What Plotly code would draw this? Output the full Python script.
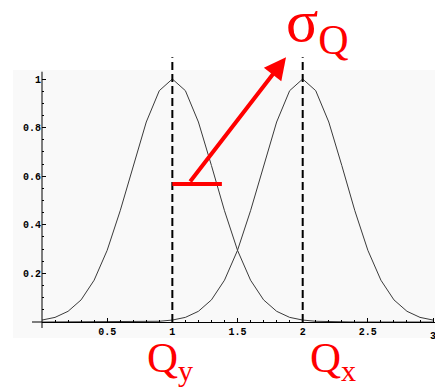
import plotly.graph_objects as go

x_vals = [0.0, 0.1, 0.2, 0.3, 0.4, 0.5, 0.6, 0.7, 0.8, 0.9,
          1.0, 1.1, 1.2, 1.3, 1.4, 1.5, 1.6, 1.7, 1.8, 1.9,
          2.0, 2.1, 2.2, 2.3, 2.4, 2.5, 2.6, 2.7, 2.8, 2.9, 3.0]
peak_y = [0.008, 0.019, 0.044, 0.091, 0.172, 0.295, 0.458, 0.644, 0.823, 0.952,
          1.0, 0.952, 0.823, 0.644, 0.458, 0.295, 0.172, 0.091, 0.044, 0.019,
          0.008, 0.003, 0.001, 0.0, 0.0, 0.0, 0.0, 0.0, 0.0, 0.0, 0.0]
peak_x = [0.0, 0.0, 0.0, 0.0, 0.0, 0.0, 0.0, 0.0, 0.001, 0.003,
          0.008, 0.019, 0.044, 0.091, 0.172, 0.295, 0.458, 0.644, 0.823, 0.952,
          1.0, 0.952, 0.823, 0.644, 0.458, 0.295, 0.172, 0.091, 0.044, 0.019, 0.008]

centers = [1, 2]
center_labels = ["Q<sub>y</sub>", "Q<sub>x</sub>"]
dash_top = 1.09

x_ticks = [0.5, 1, 1.5, 2, 2.5, 3]
x_ticktext = ["0.5", "1", "1.5", "2", "2.5", "3"]
y_ticks = [0.2, 0.4, 0.6, 0.8, 1.0]
y_ticktext = ["0.2", "0.4", "0.6", "0.8", "1"]
y_minor = [i * 0.05 for i in range(1, 21)]

# sigma marker: bar level and arrow ends (data units)
sigma_bar = (1.0, 1.38, 0.568)
arrow_tail = (1.128, 0.572)
arrow_tip = (1.872, 1.09)

RED = "#ff0000"
SERIF = "Liberation Serif, Times New Roman, serif"
tick_font = dict(family="Liberation Mono, Courier New, monospace", size=10,
                 color="black", weight="bold")

W, H = 435, 389
ML, MB = 42, 67
plot_w = W - ML
plot_h = H - MB
y_top = plot_h / 243

fig = go.Figure()

for ys in (peak_y, peak_x):
    fig.add_trace(go.Scatter(x=x_vals, y=ys, mode="lines",
                             line=dict(color="#3a3a3a", width=1),
                             hoverinfo="skip"))

for c in centers:
    fig.add_trace(go.Scatter(x=[c, c], y=[0, dash_top], mode="lines",
                             line=dict(color="black", width=2, dash="8px,4px"),
                             hoverinfo="skip"))

# red sigma bar
fig.add_trace(go.Scatter(x=[sigma_bar[0], sigma_bar[1]], y=[sigma_bar[2], sigma_bar[2]],
                         mode="lines", line=dict(color=RED, width=4),
                         hoverinfo="skip"))

shapes = [
    # faint grey backdrop of the original bitmap
    dict(type="rect", xref="paper", yref="paper", layer="below",
         x0=-29 / plot_w, x1=1, y0=-16 / plot_h, y1=252 / plot_h,
         fillcolor="#f9f9f9", line=dict(width=0)),
    # y axis line
    dict(type="line", xref="paper", yref="paper",
         x0=0, x1=0, y0=-6 / plot_h, y1=1.03 / y_top,
         line=dict(color="black", width=1)),
    # x axis extension to the left of the origin
    dict(type="line", xref="paper", yref="paper",
         x0=-10 / plot_w, x1=0, y0=0, y1=0,
         line=dict(color="black", width=1)),
]

annotations = [
    dict(x=arrow_tip[0], y=arrow_tip[1], ax=arrow_tail[0], ay=arrow_tail[1],
         xref="x", yref="y", axref="x", ayref="y", text="",
         showarrow=True, arrowhead=2, arrowsize=1.1, arrowwidth=4,
         arrowcolor=RED, standoff=0),
    dict(x=1.857, y=1.0, xref="x", yref="paper", xanchor="left", yanchor="top",
         yshift=14, text="σ<sub>Q</sub>", showarrow=False,
         font=dict(family=SERIF, size=60, color=RED)),
    # last tick label sits on the page edge; plotly drops it, so draw it here
    dict(x=x_ticks[-1], y=0, xref="x", yref="paper", xanchor="center",
         yanchor="middle", yshift=-14, text=x_ticktext[-1], showarrow=False,
         font=tick_font),
]
for c, lab, shift in zip(centers, center_labels, [-27, 5]):
    annotations.append(
        dict(x=c, y=-0.031, xref="x", yref="paper", xanchor="left", yanchor="top",
             xshift=shift, text=lab, showarrow=False,
             font=dict(family=SERIF, size=43, color=RED))
    )

fig.update_layout(
    width=W, height=H,
    margin=dict(l=ML, r=0, t=0, b=MB),
    paper_bgcolor="white", plot_bgcolor="rgba(0,0,0,0)",
    showlegend=False,
    shapes=shapes,
    annotations=annotations,
    xaxis=dict(range=[0, 3.015], showgrid=False, zeroline=False,
               showline=True, linecolor="black", linewidth=1,
               ticks="inside", ticklen=4, tickcolor="black", tickwidth=1,
               tickvals=x_ticks, ticktext=x_ticktext[:-1] + [""], tickfont=tick_font,
               minor=dict(ticks="inside", dtick=0.1, ticklen=2, tickcolor="black")),
    yaxis=dict(range=[0, y_top], showgrid=False, zeroline=False, showline=False,
               ticks="inside", ticklen=4, tickcolor="black", tickwidth=1,
               tickvals=y_ticks, ticktext=y_ticktext, tickfont=tick_font,
               minor=dict(ticks="inside", tickvals=y_minor, ticklen=2, tickcolor="black")),
)

# drop the default page margin so the figure fills the window exactly
fig.write_html("out.html",
               config={"displayModeBar": False},
               post_script="document.body.style.margin='0';"
                           "document.body.style.overflow='hidden';")
